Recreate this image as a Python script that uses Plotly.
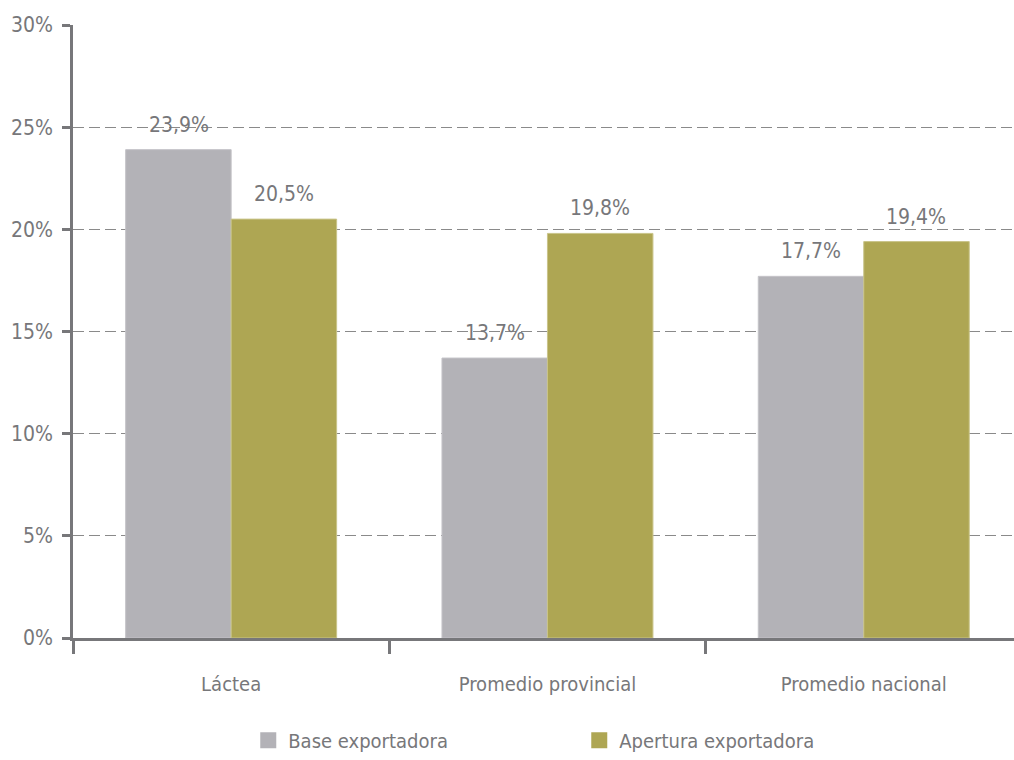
import plotly.graph_objects as go

categories = ["Láctea", "Promedio provincial", "Promedio nacional"]
series_names = ["Base exportadora", "Apertura exportadora"]
base_vals = [23.9, 13.7, 17.7]
apertura_vals = [20.5, 19.8, 19.4]
y_ticks = [0, 5, 10, 15, 20, 25, 30]
y_tick_labels = ["0%", "5%", "10%", "15%", "20%", "25%", "30%"]

colors = ["#b3b2b7", "#aea653"]
line_colors = ["#c4c3c8", "#c9c48a"]
text_color = "#77777a"
axis_color = "#77777a"
FONT = "Liberation Sans Narrow, DejaVu Sans Condensed, Roboto Condensed, Roboto, sans-serif"

fig = go.Figure()
for name, vals, c, lc in zip(series_names, [base_vals, apertura_vals], colors, line_colors):
    fig.add_trace(go.Bar(
        x=categories, y=vals, name=name, showlegend=False,
        marker=dict(color=c, line=dict(color=lc, width=1)),
    ))
    # legend proxies with bigger square swatches
    fig.add_trace(go.Scatter(
        x=[None], y=[None], mode="markers", name=name,
        marker=dict(symbol="square", size=16, color=c),
    ))

# value labels
for vals, shift in [(base_vals, -52.5), (apertura_vals, 52.5)]:
    for cat, v in zip(categories, vals):
        fig.add_annotation(
            x=cat, y=v, xshift=shift, yshift=25, showarrow=False,
            text=(f"{v:.1f}%").replace(".", ","),
            font=dict(family=FONT, size=21, color=text_color),
            yanchor="middle",
        )

fig.update_layout(
    width=1014, height=760,
    margin=dict(l=73, r=0, t=25, b=117),
    paper_bgcolor="white", plot_bgcolor="white",
    barmode="group", bargap=0.333, bargroupgap=0,
    font=dict(family=FONT, size=20, color=text_color),
    legend=dict(
        orientation="h", x=0.538, xanchor="center", y=-0.167, yanchor="middle",
        font=dict(family=FONT, size=20, color=text_color),
        entrywidth=286, entrywidthmode="pixels",
    ),
)
fig.update_xaxes(
    range=[-0.5, 2.475], tickson="boundaries", ticks="outside", ticklen=13,
    tickwidth=2.5, tickcolor=axis_color, showline=True, linecolor=axis_color,
    linewidth=2.5, showgrid=False, tickfont=dict(family=FONT, size=20, color=text_color),
    ticklabelstandoff=26,
)
fig.update_yaxes(
    range=[0, 30], tickvals=y_ticks, ticktext=y_tick_labels, ticks="outside",
    ticklen=8, tickwidth=2.5, tickcolor=axis_color, showline=True,
    linecolor=axis_color, linewidth=2.5, showgrid=True, gridcolor="#8a8a8a",
    gridwidth=1.4, griddash="11px,5px", zeroline=False,
    tickfont=dict(family=FONT, size=21, color=text_color),
    ticklabelstandoff=5,
)

fig.write_html(
    "out.html",
    config={"displayModeBar": False},
    post_script=(
        "document.body.style.margin='0';"
        "document.body.style.overflow='hidden';"
        "document.documentElement.style.overflow='hidden';"
    ),
)
